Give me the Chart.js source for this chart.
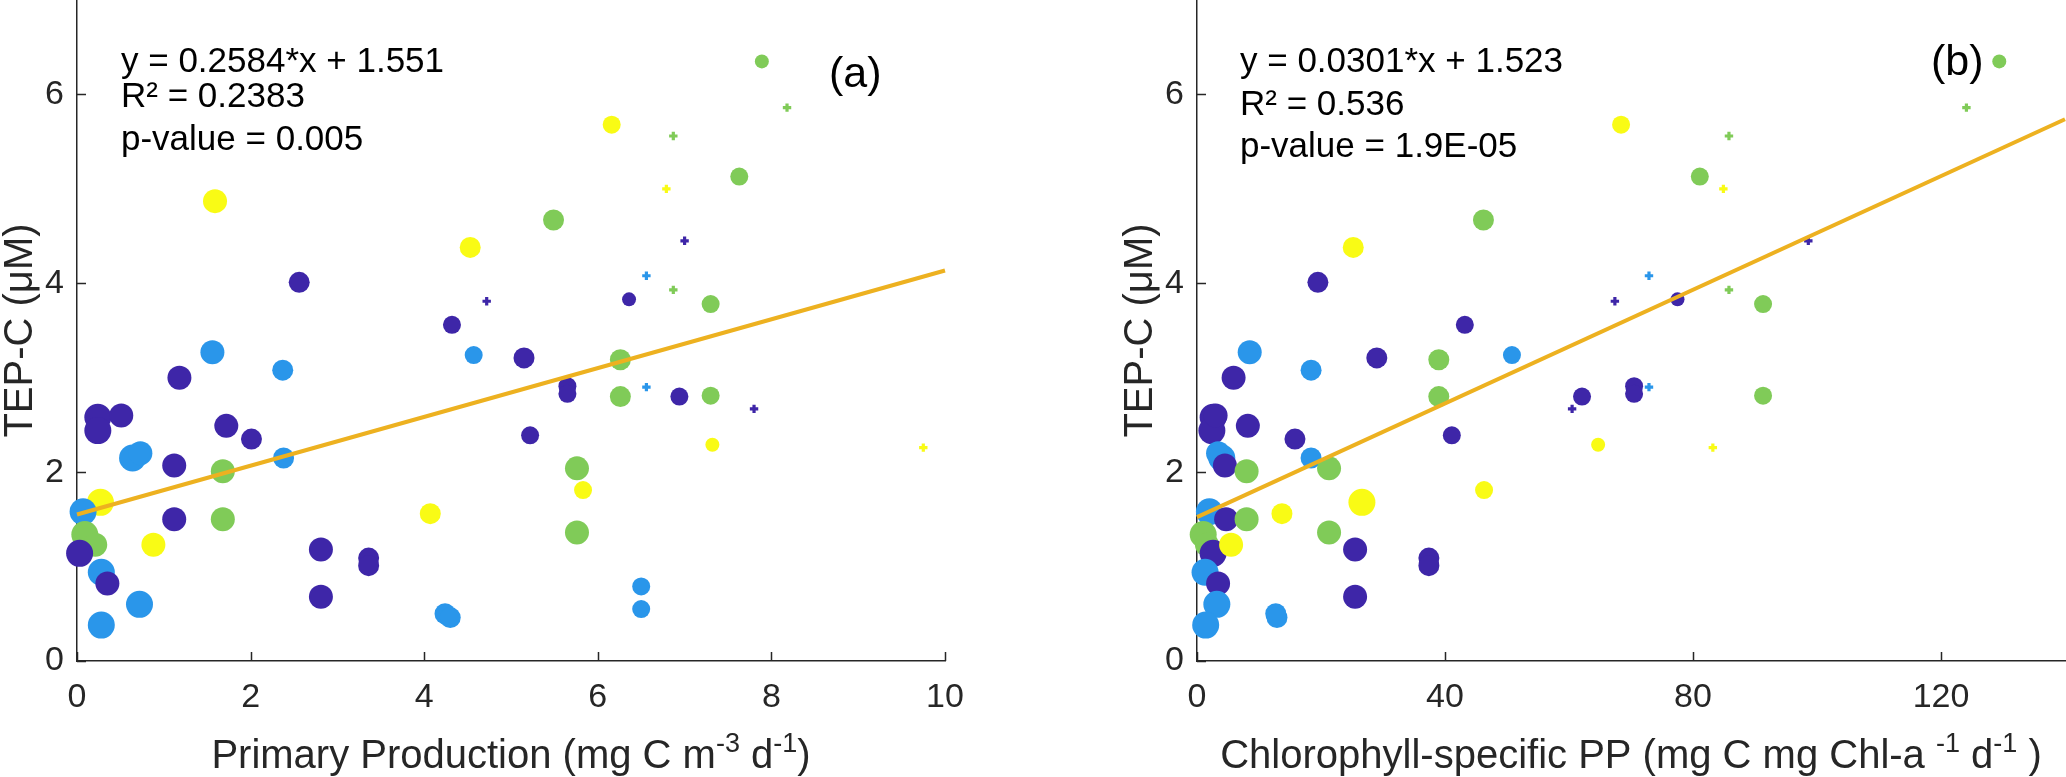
<!DOCTYPE html>
<html>
<head>
<meta charset="utf-8">
<script src="https://cdn.jsdelivr.net/npm/chart.js@4.4.1/dist/chart.umd.min.js"></script>
<style>
html,body{margin:0;padding:0;background:#ffffff;}
#wrap{position:relative;width:2066px;height:777px;overflow:hidden;background:#fff;}
.pane{position:absolute;top:0;height:777px;}
</style>
</head>
<body>
<div id="wrap">
  <div class="pane" style="left:0;width:1120px;"><canvas id="chartA"></canvas></div>
  <div class="pane" style="left:1120px;width:946px;"><canvas id="chartB"></canvas></div>
</div>
<script>
// ---------------- DATA ----------------
// TEP-C concentration (µM), one value per sample
const tepC = [4.87,4.01,3.27,3.00,3.08,2.58,2.44,2.60,2.49,2.35,2.15,2.20,2.07,2.01,2.15,1.68,1.58,1.50,1.50,1.34,1.23,1.14,1.23,1.18,1.09,1.01,0.68,0.94,0.82,0.60,0.38,0.50,0.46,1.36,0.79,0.55,6.35,5.86,5.13,5.68,5.56,4.67,5.00,4.38,4.45,4.08,3.93,3.81,3.83,3.56,3.78,3.24,3.21,3.19,2.91,2.83,2.90,2.80,2.80,2.81,2.67,2.39,2.29,2.04,1.81,1.56,2.26];
// Primary production (mg C m-3 d-1) – panel (a)
const ppVolumetric = [1.59,2.56,1.56,1.18,2.37,0.24,0.24,0.51,1.72,2.01,0.64,0.73,1.12,1.68,2.38,0.27,0.07,1.12,1.68,0.09,0.21,0.03,0.88,2.81,3.36,3.36,2.81,0.28,0.35,0.72,0.28,4.24,4.30,5.76,6.50,6.50,7.89,8.18,7.63,6.16,6.87,5.49,6.79,4.53,7.00,6.56,6.87,4.72,6.36,4.32,7.30,4.57,5.15,6.26,5.65,5.65,6.56,6.26,6.94,7.30,7.80,5.22,7.32,5.76,5.83,4.07,9.75];
// Chlorophyll-specific PP (mg C mg Chl-a-1 d-1) – panel (b); null = not shown
const ppChlSpecific = [null,19.5,8.5,5.9,18.4,2.6,2.4,3.0,8.2,15.8,4.0,3.4,4.5,8.0,18.4,26.6,2.0,4.7,8.0,1.0,1.6,2.6,5.5,25.5,37.4,37.4,25.5,1.3,3.4,3.2,1.4,12.7,12.9,21.3,null,null,129.4,124.1,81.1,68.4,85.8,46.2,84.9,25.2,98.6,72.9,85.8,67.4,77.5,43.2,91.3,50.8,29.0,39.0,70.5,70.5,72.9,39.0,62.1,91.3,60.5,41.1,64.7,21.3,46.3,13.7,83.2];
// colour group of each sample (0..3)
const sampleGroup = [3,0,1,0,1,0,0,0,0,0,1,1,0,2,1,3,1,0,2,2,2,0,3,0,0,0,0,1,0,1,1,1,1,2,1,1,2,2,2,3,2,2,3,3,0,1,2,0,0,0,2,1,0,2,0,0,1,2,0,2,0,0,3,2,3,3,3];
// marker-size class of each sample (0 = largest … 5 = smallest)
const sizeClass = [1,2,1,1,2,0,0,1,1,2,0,1,1,1,2,0,0,1,1,0,1,0,1,1,2,2,1,0,1,0,0,2,2,1,3,3,4,5,3,3,5,2,5,2,5,5,5,5,4,3,3,3,2,2,3,3,5,2,3,3,5,3,4,1,3,2,5];

const yTickValues = [0,2,4,6];
const xTickValuesA = [0,2,4,6,8,10];
const xTickValuesB = [0,40,80,120];

const fitXA = [0,10];   const fitYA = [1.551,4.135];
const fitXB = [0,140];  const fitYB = [1.523,5.737];

const statsA = ['y = 0.2584*x + 1.551','R\u00B2 = 0.2383','p-value = 0.005'];
const statsB = ['y = 0.0301*x + 1.523','R\u00B2 = 0.536','p-value = 1.9E-05'];

const yTitle = 'TEP-C (\u03BCM)';
const xTitleA = [{t:'Primary Production (mg C m'},{t:'-3',sup:true},{t:' d'},{t:'-1',sup:true},{t:')'}];
const xTitleB = [{t:'Chlorophyll-specific PP (mg C mg Chl-a '},{t:'-1',sup:true},{t:' d'},{t:'-1',sup:true},{t:' )'}];

// ---------------- STYLE ----------------
const GROUP_COLORS = ['#3E26A8','#2A96EA','#80CB58','#F9FB15'];
const CLASS_RADIUS = [13.5,12,10.5,9,7,4.2];
const AXIS_COLOR = '#262626';
const FONT = '"Liberation Sans", Arial, Helvetica, sans-serif';

function buildPoints(xs){
  const pts=[], bg=[], rad=[], sty=[], bw=[];
  for(let i=0;i<tepC.length;i++){
    if(xs[i]===null || xs[i]===undefined) continue;
    pts.push({x:xs[i], y:tepC[i]});
    const col = GROUP_COLORS[sampleGroup[i]];
    bg.push(col);
    const c = sizeClass[i];
    rad.push(CLASS_RADIUS[c]);
    sty.push(c===5 ? 'cross' : 'circle');
    bw.push(c===5 ? 3.2 : 0);
  }
  return {pts,bg,rad,sty,bw};
}

function drawRich(ctx, segs, cx, baseline, font, supFont, rise){
  let total=0;
  segs.forEach(s=>{ctx.font = s.sup?supFont:font; s.w = ctx.measureText(s.t).width; total+=s.w;});
  let x = cx - total/2;
  ctx.textAlign='left'; ctx.textBaseline='alphabetic';
  segs.forEach(s=>{ctx.font = s.sup?supFont:font; ctx.fillText(s.t, x, s.sup?baseline-rise:baseline); x+=s.w;});
}

function makeChart(id, xs, fitX, fitY, xMax, xTicks, xTitleSegs, stats, statX, statBaselines, label, labelX, labelY, rightPad){
  const P = buildPoints(xs);
  const fitPts = fitX.map((v,i)=>({x:v, y:fitY[i]}));
  const decor = {
    id:'decor'+id,
    afterDraw(chart){
      const ctx = chart.ctx, a = chart.chartArea;
      const sx = chart.scales.x, sy = chart.scales.y;
      ctx.save();
      // inward tick marks
      ctx.strokeStyle = AXIS_COLOR; ctx.lineWidth = 1.5;
      ctx.beginPath();
      xTicks.forEach(v=>{const px=Math.round(sx.getPixelForValue(v))+0.5; ctx.moveTo(px,a.bottom); ctx.lineTo(px,a.bottom-9);});
      yTickValues.forEach(v=>{const py=Math.round(sy.getPixelForValue(v))+0.5; ctx.moveTo(a.left,py); ctx.lineTo(a.left+9,py);});
      ctx.stroke();
      // axis titles
      ctx.fillStyle = AXIS_COLOR;
      drawRich(ctx, xTitleSegs, (a.left+a.right)/2, 768, '40px '+FONT, '27px '+FONT, 16);
      ctx.save();
      ctx.translate(32, (a.top+a.bottom)/2);
      ctx.rotate(-Math.PI/2);
      ctx.font = '40px '+FONT; ctx.textAlign='center'; ctx.textBaseline='alphabetic';
      ctx.fillText(yTitle, 0, 0);
      ctx.restore();
      // statistics text
      ctx.fillStyle = '#000000';
      ctx.font = '35px '+FONT; ctx.textAlign='left'; ctx.textBaseline='alphabetic';
      stats.forEach((s,i)=>ctx.fillText(s, statX, statBaselines[i]));
      // panel label
      ctx.font = '43px '+FONT;
      ctx.fillText(label, labelX, labelY);
      ctx.restore();
    }
  };
  return new Chart(document.getElementById(id), {
    type:'scatter',
    data:{datasets:[
      {type:'line', data:fitPts, borderColor:'#EDB120', borderWidth:4, pointRadius:0, fill:false, tension:0, order:0, clip:false},
      {data:P.pts, pointBackgroundColor:P.bg, pointBorderColor:P.bg, pointBorderWidth:P.bw, pointRadius:P.rad, pointStyle:P.sty, order:1, clip:false}
    ]},
    options:{
      responsive:true, maintainAspectRatio:false, animation:false, devicePixelRatio:1, events:[],
      layout:{autoPadding:false, padding:{left:0, top:0, right:rightPad, bottom:0}},
      plugins:{legend:{display:false}, tooltip:{enabled:false}, title:{display:false}},
      scales:{
        x:{type:'linear', min:0, max:xMax,
           afterBuildTicks:(s)=>{s.ticks = xTicks.map(v=>({value:v}));},
           afterFit:(s)=>{s.height = 116; s.paddingLeft=0; s.paddingRight=0;},
           ticks:{color:AXIS_COLOR, font:{family:FONT, size:34}, padding:16, maxRotation:0, autoSkip:false, includeBounds:false},
           grid:{display:false, drawTicks:false},
           border:{display:true, color:AXIS_COLOR, width:1.5}},
        y:{type:'linear', min:0, max:7,
           afterBuildTicks:(s)=>{s.ticks = yTickValues.map(v=>({value:v}));},
           afterFit:(s)=>{s.width = 77; s.paddingTop=0; s.paddingBottom=0;},
           ticks:{color:AXIS_COLOR, font:{family:FONT, size:34}, padding:13, autoSkip:false, includeBounds:false},
           grid:{display:false, drawTicks:false},
           border:{display:true, color:AXIS_COLOR, width:1.5}}
      }
    },
    plugins:[decor]
  });
}

makeChart('chartA', ppVolumetric, fitXA, fitYA, 10, xTickValuesA, xTitleA, statsA, 121, [72,107,150], '(a)', 829, 87, 175);
makeChart('chartB', ppChlSpecific, fitXB, fitYB, 140, xTickValuesB, xTitleB, statsB, 120, [72,115,157], '(b)', 811, 75, 1);
</script>
</body>
</html>
